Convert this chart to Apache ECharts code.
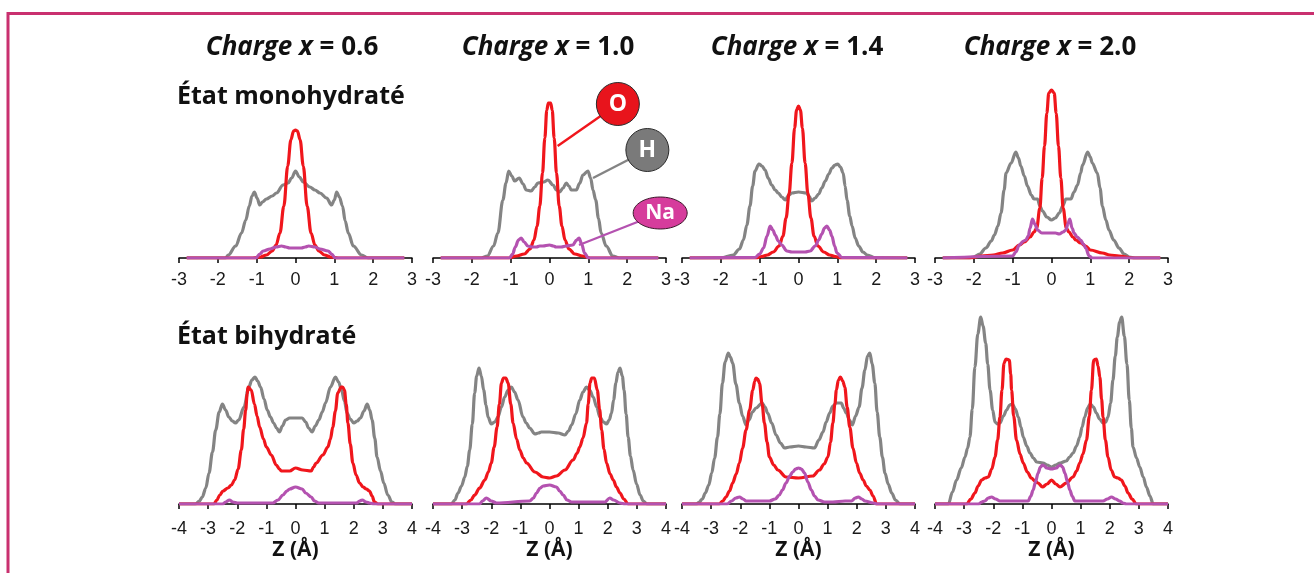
<!DOCTYPE html>
<html>
<head>
<meta charset="UTF-8">
<title>Profils de densité O / H / Na</title>
<script src="https://cdn.jsdelivr.net/npm/echarts@6/dist/echarts.min.js"></script>
</head>
<body style="margin:0;background:#fff;">
<div id="main" style="width:1314px;height:573px;"></div>
<script type="text/javascript">
// ---- data (z en Å, densité en unités arbitraires) ----
var charges = ['0.6', '1.0', '1.4', '2.0'];
var monoRange = [-3, 3];
var biRange = [-4, 4];

// état monohydraté
var H06m = [[-2.8,0],[-1.8,0],[-1.73,3],[-1.54,12],[-1.39,25],[-1.28,38],[-1.19,52],[-1.12,62],[-1.06,66],[-0.99,60],[-0.92,53],[-0.85,56],[-0.75,59],[-0.6,62],[-0.49,65],[-0.32,73],[-0.19,75],[-0.1,80],[0,87],[0.1,81],[0.2,76],[0.37,71],[0.5,68],[0.63,65],[0.8,60],[0.93,53],[1.0,58],[1.06,66],[1.13,61],[1.21,52],[1.28,37],[1.36,25],[1.49,12],[1.7,3],[1.87,0],[2.8,0]];
var O06m = [[-2.8,0],[-1.1,0],[-0.9,1],[-0.75,3],[-0.6,7],[-0.5,13],[-0.4,25],[-0.3,52],[-0.2,92],[-0.12,118],[-0.05,127],[0,128],[0.05,127],[0.12,118],[0.2,92],[0.3,52],[0.4,25],[0.5,13],[0.6,7],[0.75,3],[0.9,1],[1.1,0],[2.8,0]];
var Na06m = [[-2.8,0],[-1.02,0],[-0.92,4],[-0.83,7],[-0.66,9],[-0.5,11],[-0.36,12],[-0.25,11],[-0.15,10],[0,10],[0.15,10],[0.25,11],[0.34,12],[0.5,11],[0.63,9],[0.84,7],[0.93,4],[1.02,0],[2.8,0]];

var H10m = [[-2.8,0],[-1.75,0],[-1.6,2],[-1.44,12],[-1.33,25],[-1.2,58],[-1.12,75],[-1.05,87],[-0.97,82],[-0.9,77],[-0.78,80],[-0.68,74],[-0.6,68],[-0.47,67],[-0.38,71],[-0.3,75],[-0.15,76],[-0.04,78],[0.09,73],[0.18,68],[0.26,66],[0.35,70],[0.43,75],[0.5,72],[0.56,68],[0.69,68],[0.78,75],[0.86,83],[0.99,87],[1.06,80],[1.12,68],[1.19,58],[1.26,40],[1.33,25],[1.46,12],[1.63,2],[1.8,0],[2.8,0]];
var O10m = [[-2.8,0],[-1.05,0],[-0.85,2],[-0.65,4],[-0.5,9],[-0.4,18],[-0.32,32],[-0.25,52],[-0.18,85],[-0.12,120],[-0.07,148],[-0.03,155],[0.03,155],[0.07,148],[0.12,120],[0.18,85],[0.25,52],[0.32,32],[0.4,18],[0.5,9],[0.65,4],[0.85,2],[1.05,0],[2.8,0]];
var Na10m = [[-2.8,0],[-1.03,0],[-0.95,4],[-0.88,11],[-0.8,18],[-0.73,20],[-0.65,16],[-0.56,12],[-0.45,11],[-0.34,11],[-0.25,12],[-0.17,12],[0,13],[0.1,12],[0.17,11],[0.3,11],[0.43,12],[0.6,13],[0.7,18],[0.76,20],[0.83,14],[0.9,5],[1.0,0],[2.8,0]];

var H14m = [[-2.8,0],[-2.0,0],[-1.68,3],[-1.52,9],[-1.42,18],[-1.33,33],[-1.25,52],[-1.18,72],[-1.12,87],[-1.02,94],[-0.94,92],[-0.86,88],[-0.78,80],[-0.69,73],[-0.6,68],[-0.52,65],[-0.43,61],[-0.34,58],[-0.25,63],[-0.17,65],[0,66],[0.2,65],[0.27,62],[0.34,57],[0.43,60],[0.52,64],[0.6,70],[0.69,77],[0.78,84],[0.86,90],[0.94,93],[1.01,94],[1.08,91],[1.15,85],[1.2,72],[1.25,58],[1.32,42],[1.38,32],[1.46,20],[1.55,12],[1.66,6],[1.77,3],[1.98,0],[2.8,0]];
var O14m = [[-2.8,0],[-1.1,0],[-0.95,1.5],[-0.8,3],[-0.65,6],[-0.5,12],[-0.4,22],[-0.32,40],[-0.24,65],[-0.17,95],[-0.1,130],[-0.05,148],[0,152],[0.05,148],[0.1,130],[0.17,95],[0.24,65],[0.32,40],[0.4,22],[0.5,12],[0.65,6],[0.8,3],[0.95,1.5],[1.1,0],[2.8,0]];
var Na14m = [[-2.8,0],[-1.12,0.5],[-1.0,4],[-0.9,10],[-0.81,22],[-0.73,32],[-0.66,28],[-0.6,23],[-0.52,17],[-0.43,13],[-0.3,7],[-0.17,6],[0,6],[0.17,6],[0.3,7],[0.43,12],[0.52,18],[0.6,24],[0.67,30],[0.73,32],[0.8,28],[0.86,22],[0.93,12],[0.99,5],[1.12,0.5],[2.8,0]];

var H20m = [[-2.8,0],[-2.15,0],[-2.0,1],[-1.85,4],[-1.69,10],[-1.55,17],[-1.47,23],[-1.38,32],[-1.3,45],[-1.22,68],[-1.17,85],[-1.04,95],[-0.92,106],[-0.85,100],[-0.79,92],[-0.7,82],[-0.62,72],[-0.52,63],[-0.45,59],[-0.36,59],[-0.3,52],[-0.23,47],[-0.12,41],[0,38],[0.1,40],[0.2,45],[0.3,53],[0.37,59],[0.5,59],[0.58,66],[0.67,73],[0.75,85],[0.8,93],[0.93,106],[1.0,101],[1.05,95],[1.18,85],[1.25,70],[1.31,52],[1.4,38],[1.48,28],[1.6,18],[1.74,10],[1.87,4],[2.0,1],[2.15,0],[2.8,0]];
var O20m = [[-2.8,0],[-2.1,0],[-1.8,2],[-1.5,3],[-1.26,5],[-1.0,8],[-0.83,13],[-0.7,16],[-0.55,21],[-0.45,26],[-0.38,30],[-0.3,50],[-0.24,80],[-0.18,112],[-0.12,145],[-0.07,165],[0,168],[0.07,165],[0.12,145],[0.18,112],[0.24,80],[0.3,50],[0.38,30],[0.45,26],[0.55,21],[0.63,18],[0.75,15],[0.88,12],[1.0,8],[1.31,5],[1.5,3],[1.74,2],[2.1,0],[2.8,0]];
var Na20m = [[-2.8,0],[-1.0,2],[-0.92,6],[-0.83,13],[-0.72,17],[-0.66,18],[-0.6,22],[-0.55,30],[-0.49,39],[-0.43,34],[-0.36,28],[-0.25,25],[-0.1,25],[0.1,25],[0.2,24],[0.3,26],[0.37,28],[0.43,35],[0.47,39],[0.53,30],[0.58,25],[0.66,21],[0.75,18],[0.82,14],[0.88,10],[0.97,2],[1.05,0],[2.8,0]];

// état bihydraté
var H06b = [[-4,0],[-3.43,0],[-3.3,3],[-3.2,7],[-3.08,16],[-2.97,31],[-2.85,52],[-2.74,74],[-2.62,92],[-2.51,100],[-2.4,94],[-2.29,87],[-2.17,83],[-2.06,81],[-1.95,84],[-1.77,97],[-1.6,117],[-1.5,124],[-1.39,127],[-1.3,123],[-1.2,117],[-1.08,105],[-0.97,94],[-0.86,87],[-0.75,81],[-0.65,76],[-0.55,72],[-0.45,78],[-0.34,84],[-0.2,86],[0,86],[0.23,86],[0.35,82],[0.45,76],[0.57,72],[0.68,78],[0.8,84],[0.92,92],[1.03,101],[1.2,117],[1.37,127],[1.48,122],[1.58,114],[1.68,103],[1.77,91],[1.88,85],[2.0,81],[2.12,83],[2.23,86],[2.35,93],[2.46,100],[2.55,94],[2.63,84],[2.72,66],[2.8,47],[2.92,33],[3.03,21],[3.17,9],[3.31,2],[3.43,0],[4,0]];
var O06b = [[-4,0],[-2.8,0],[-2.7,4],[-2.6,9],[-2.49,13],[-2.32,16],[-2.2,19],[-2.09,24],[-1.97,35],[-1.86,54],[-1.78,75],[-1.71,94],[-1.66,110],[-1.63,117],[-1.52,114],[-1.41,100],[-1.32,88],[-1.23,77],[-1.1,65],[-1.0,57],[-0.83,49],[-0.66,39],[-0.55,35],[-0.49,33],[-0.2,33],[0,36],[0.25,34],[0.54,33],[0.62,37],[0.71,41],[0.94,49],[1.11,57],[1.2,65],[1.28,77],[1.37,93],[1.45,111],[1.57,117],[1.62,117],[1.68,114],[1.74,100],[1.8,81],[1.88,60],[1.97,41],[2.08,29],[2.2,21],[2.32,17],[2.43,15],[2.54,13],[2.63,8],[2.71,2],[2.83,0],[4,0]];
var Na06b = [[-4,0],[-2.5,0],[-2.4,2],[-2.27,4],[-2.15,2],[-2.0,1],[-1.0,1],[-0.78,1],[-0.6,4],[-0.43,9],[-0.3,13],[-0.2,15],[0,17],[0.23,15],[0.35,11],[0.54,7],[0.65,3],[0.8,1],[2.1,1],[2.2,3],[2.29,4],[2.42,2],[2.54,1],[2.7,0],[4,0]];

var H10b = [[-4,0],[-3.37,0],[-3.25,4],[-3.14,11],[-3.02,18],[-2.91,27],[-2.82,38],[-2.74,54],[-2.65,80],[-2.57,111],[-2.5,128],[-2.42,136],[-2.34,128],[-2.26,114],[-2.18,99],[-2.11,87],[-2.0,80],[-1.88,82],[-1.77,87],[-1.65,97],[-1.54,107],[-1.42,114],[-1.31,117],[-1.2,112],[-1.08,104],[-0.91,87],[-0.8,81],[-0.68,76],[-0.5,70],[-0.38,71],[-0.28,72],[0,72],[0.3,71],[0.53,69],[0.65,73],[0.76,79],[0.9,90],[1.04,104],[1.15,112],[1.27,117],[1.38,114],[1.5,107],[1.62,97],[1.73,87],[1.85,82],[1.96,80],[2.05,84],[2.13,91],[2.2,104],[2.28,121],[2.35,132],[2.42,136],[2.5,128],[2.56,114],[2.63,90],[2.7,67],[2.78,48],[2.87,34],[2.99,20],[3.11,9],[3.22,3],[3.34,0],[4,0]];
var O10b = [[-4,0],[-2.85,0],[-2.7,4],[-2.57,9],[-2.4,16],[-2.22,24],[-2.1,32],[-2.0,41],[-1.9,57],[-1.8,77],[-1.72,100],[-1.65,121],[-1.58,126],[-1.5,126],[-1.42,121],[-1.33,100],[-1.25,81],[-1.13,65],[-1.02,54],[-0.9,46],[-0.79,41],[-0.5,32],[-0.22,27],[0,26],[0.24,28],[0.53,34],[0.81,44],[0.95,51],[1.04,57],[1.15,66],[1.27,81],[1.33,100],[1.39,121],[1.45,126],[1.54,126],[1.64,114],[1.72,95],[1.79,74],[1.87,55],[1.96,41],[2.08,30],[2.19,24],[2.3,17],[2.42,11],[2.55,5],[2.7,0],[4,0]];
var Na10b = [[-4,0],[-2.4,0],[-2.3,3],[-2.17,6],[-2.0,3],[-1.82,1],[-0.68,3],[-0.55,6],[-0.45,11],[-0.32,16],[-0.22,18],[0,19],[0.24,17],[0.35,13],[0.47,9],[0.6,4],[0.76,2],[1.9,2],[2.07,6],[2.2,4],[2.42,1],[2.6,0],[4,0]];

var H14b = [[-4,0],[-3.5,0],[-3.41,2],[-3.3,5],[-3.2,11],[-3.08,19],[-2.98,31],[-2.88,46],[-2.78,67],[-2.7,90],[-2.61,121],[-2.52,142],[-2.41,151],[-2.34,147],[-2.26,141],[-2.15,120],[-2.03,101],[-1.92,88],[-1.8,79],[-1.7,84],[-1.58,92],[-1.46,96],[-1.25,101],[-1.15,97],[-1.06,91],[-0.92,81],[-0.77,69],[-0.62,61],[-0.48,56],[-0.3,57],[0,58],[0.26,57],[0.55,56],[0.7,64],[0.84,72],[0.95,82],[1.07,91],[1.18,98],[1.3,101],[1.47,101],[1.55,96],[1.64,91],[1.75,84],[1.85,79],[1.96,88],[2.08,97],[2.18,116],[2.28,134],[2.37,148],[2.45,151],[2.53,140],[2.62,121],[2.7,92],[2.79,67],[2.88,47],[2.97,31],[3.08,20],[3.2,11],[3.33,4],[3.48,0],[4,0]];
var O14b = [[-4,0],[-2.72,0],[-2.6,3],[-2.49,7],[-2.37,13],[-2.26,21],[-2.14,30],[-2.03,41],[-1.92,56],[-1.8,74],[-1.68,94],[-1.57,114],[-1.5,123],[-1.46,126],[-1.4,125],[-1.34,121],[-1.25,100],[-1.17,81],[-1.08,62],[-1.0,47],[-0.85,39],[-0.71,34],[-0.43,27],[0,26],[0.49,28],[0.72,34],[0.88,40],[1.01,47],[1.1,62],[1.18,81],[1.25,100],[1.3,114],[1.37,124],[1.44,127],[1.52,123],[1.59,117],[1.67,97],[1.76,77],[1.87,56],[1.99,41],[2.1,31],[2.22,24],[2.33,18],[2.45,14],[2.56,8],[2.68,0],[4,0]];
var Na14b = [[-4,0],[-2.45,0],[-2.3,3],[-2.15,6],[-2.03,7],[-1.9,5],[-1.8,3],[-1.0,3],[-0.8,5],[-0.66,9],[-0.55,14],[-0.43,21],[-0.3,28],[-0.2,32],[-0.1,35],[0,36],[0.1,35],[0.21,31],[0.32,22],[0.44,14],[0.55,8],[0.67,4],[0.9,2],[1.18,2],[1.6,3],[1.82,3],[1.95,6],[2.05,7],[2.18,5],[2.28,3],[2.57,1],[2.7,0],[4,0]];

var H20b = [[-4,0],[-3.54,0],[-3.4,12],[-3.26,24],[-3.1,36],[-2.97,47],[-2.88,56],[-2.8,67],[-2.72,95],[-2.63,137],[-2.53,170],[-2.43,187],[-2.35,178],[-2.26,161],[-2.19,140],[-2.11,114],[-2.02,94],[-1.94,82],[-1.85,80],[-1.77,81],[-1.65,88],[-1.54,94],[-1.44,99],[-1.34,100],[-1.24,95],[-1.14,87],[-1.05,77],[-0.97,67],[-0.85,58],[-0.74,51],[-0.62,46],[-0.51,42],[-0.29,41],[-0.15,39],[0,37],[0.15,39],[0.29,41],[0.51,43],[0.62,47],[0.74,51],[0.86,58],[0.97,67],[1.05,77],[1.14,87],[1.24,96],[1.33,100],[1.44,97],[1.54,91],[1.65,85],[1.77,81],[1.86,82],[1.94,87],[2.03,101],[2.11,124],[2.19,148],[2.26,167],[2.34,182],[2.41,187],[2.5,168],[2.59,140],[2.67,104],[2.74,76],[2.8,57],[2.92,46],[3.03,37],[3.15,27],[3.26,17],[3.38,8],[3.49,0],[4,0]];
var O20b = [[-4,0],[-2.91,0],[-2.77,5],[-2.63,11],[-2.52,18],[-2.4,24],[-2.28,26],[-2.17,27],[-2.05,35],[-1.94,47],[-1.85,64],[-1.77,87],[-1.7,114],[-1.63,141],[-1.56,145],[-1.45,144],[-1.4,130],[-1.37,114],[-1.3,88],[-1.2,64],[-1.08,50],[-0.97,41],[-0.83,32],[-0.69,26],[-0.57,23],[-0.46,21],[-0.31,17],[-0.15,20],[0,24],[0.15,20],[0.29,17],[0.51,21],[0.74,27],[0.86,33],[0.97,41],[1.08,50],[1.2,64],[1.3,88],[1.37,114],[1.45,144],[1.54,145],[1.6,138],[1.66,127],[1.72,105],[1.77,87],[1.85,64],[1.94,47],[2.05,34],[2.17,27],[2.28,26],[2.4,24],[2.52,18],[2.63,11],[2.77,5],[2.91,0],[4,0]];
var Na20b = [[-4,0],[-2.5,0],[-2.4,2],[-2.29,3],[-2.17,6],[-2.06,7],[-1.92,5],[-1.77,3],[-0.8,3],[-0.71,8],[-0.63,14],[-0.55,22],[-0.46,31],[-0.38,37],[-0.31,39],[-0.24,38],[-0.17,36],[0,35],[0.17,36],[0.24,38],[0.31,39],[0.38,37],[0.46,31],[0.55,22],[0.63,14],[0.71,8],[0.8,3],[1.77,3],[1.92,5],[2.06,7],[2.2,5],[2.34,3],[2.45,1],[2.57,0],[4,0]];

// bulles du panneau x = 1.0 (mono) : [libellé, point sur la courbe, centre de la bulle]
var calloutLabels = ['O', 'H', 'Na'];
var calloutAnchors = [[0.21, 112], [1.12, 80], [0.76, 13]];
var calloutCenters = [[1.76, 154], [2.52, 108], [2.85, 45]];

// ---- mise en page ----
var colO = '#f0161c', colH = '#848484', colNa = '#b452b0';
var lefts = [179, 433, 682, 935];
var panelW = 233;
var rows = [
  { top: 78, height: 180, max: 180, range: monoRange, H: [H06m, H10m, H14m, H20m], O: [O06m, O10m, O14m, O20m], Na: [Na06m, Na10m, Na14m, Na20m] },
  { top: 304, height: 200, max: 200, range: biRange, H: [H06b, H10b, H14b, H20b], O: [O06b, O10b, O14b, O20b], Na: [Na06b, Na10b, Na14b, Na20b] }
];

var grids = [], xAxes = [], yAxes = [], series = [];
rows.forEach(function (row, r) {
  for (var c = 0; c < 4; c++) {
    var idx = r * 4 + c;
    grids.push({ left: lefts[c], width: panelW, top: row.top, height: row.height });
    xAxes.push({
      type: 'value', gridIndex: idx, min: row.range[0], max: row.range[1], interval: 1,
      axisLine: { onZero: false, lineStyle: { color: '#000', width: 1.5 } },
      axisTick: { length: 5, lineStyle: { color: '#000', width: 1.5 } },
      splitLine: { show: false },
      axisLabel: { margin: r === 0 ? 13 : 16, fontFamily: 'Liberation Sans', fontSize: 18, color: '#1a1a1a' },
      name: r === 1 ? 'Z (Å)' : '', nameLocation: 'middle', nameGap: 36,
      nameTextStyle: { fontFamily: 'Open Sans', fontWeight: 'bold', fontSize: 21, color: '#111' }
    });
    yAxes.push({ type: 'value', gridIndex: idx, min: 0, max: row.max, show: false });
    [['H', colH], ['O', colO], ['Na', colNa]].forEach(function (s, k) {
      series.push({
        type: 'line', name: s[0], xAxisIndex: idx, yAxisIndex: idx,
        data: row[s[0]][c], showSymbol: false, smooth: 0.35, smoothMonotone: 'x',
        lineStyle: { color: s[1], width: 3.2 }, itemStyle: { color: s[1] },
        z: 2 + k, silent: true
      });
    });
  }
});

var centers = [292, 548, 797, 1050];
var titleRich = {
  i: { fontFamily: 'Open Sans', fontStyle: 'italic', fontWeight: 'bold', fontSize: 26, fill: '#111' },
  b: { fontFamily: 'Open Sans', fontWeight: 'bold', fontSize: 26, fill: '#111' }
};
var graphics = [
  { type: 'line', shape: { x1: 7, y1: 13.5, x2: 1314, y2: 13.5 }, style: { stroke: '#c9306f', lineWidth: 3 } },
  { type: 'line', shape: { x1: 8, y1: 12, x2: 8, y2: 573 }, style: { stroke: '#c9306f', lineWidth: 3 } },
  { type: 'text', x: 177, y: 97, style: { text: 'État monohydraté', fontFamily: 'Open Sans', fontWeight: 'bold', fontSize: 25, fill: '#111', textVerticalAlign: 'middle' } },
  { type: 'text', x: 177, y: 337, style: { text: 'État bihydraté', fontFamily: 'Open Sans', fontWeight: 'bold', fontSize: 25, fill: '#111', textVerticalAlign: 'middle' } }
];
charges.forEach(function (ch, i) {
  graphics.push({ type: 'text', x: centers[i], y: 48, style: { text: '{i|Charge x}  {b|= ' + ch + '}', rich: titleRich, textAlign: 'center', textVerticalAlign: 'middle' } });
});

var myChart = echarts.init(document.getElementById('main'));
myChart.setOption({
  animation: false,
  grid: grids, xAxis: xAxes, yAxis: yAxes, series: series,
  graphic: graphics
});

// bulles O / H / Na, placées en coordonnées de données du panneau x = 1.0
var bubbleFill = ['#e8141c', '#7a7a7a', '#d63c9c'];
var lineCol = [colO, colH, colNa];
calloutLabels.forEach(function (lab, i) {
  var a = myChart.convertToPixel({ xAxisIndex: 1, yAxisIndex: 1 }, calloutAnchors[i]);
  var b = myChart.convertToPixel({ xAxisIndex: 1, yAxisIndex: 1 }, calloutCenters[i]);
  graphics.push({ type: 'line', z: 10, shape: { x1: a[0], y1: a[1], x2: b[0], y2: b[1] }, style: { stroke: lineCol[i], lineWidth: 2.4 } });
  if (lab === 'Na') {
    graphics.push({ type: 'ellipse', z: 11, shape: { cx: b[0], cy: b[1], rx: 27, ry: 16 }, style: { fill: bubbleFill[i], stroke: '#3a1a2a', lineWidth: 1 } });
  } else {
    graphics.push({ type: 'circle', z: 11, shape: { cx: b[0], cy: b[1], r: 21.5 }, style: { fill: bubbleFill[i], stroke: '#2a2a2a', lineWidth: 1 } });
  }
  graphics.push({ type: 'text', z: 12, x: b[0], y: b[1], style: { text: lab, fontFamily: 'Open Sans', fontWeight: 'bold', fontSize: lab === 'Na' ? 21 : 23, fill: '#fff', textAlign: 'center', textVerticalAlign: 'middle' } });
});
myChart.setOption({ graphic: graphics });
</script>
</body>
</html>
